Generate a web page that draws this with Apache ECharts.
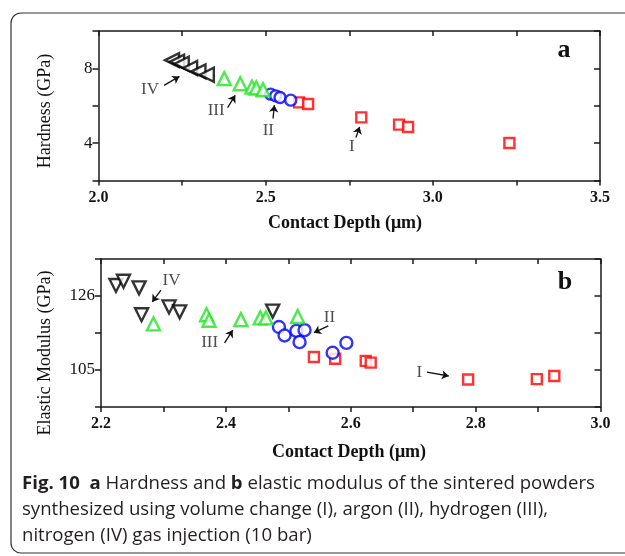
<!DOCTYPE html>
<html>
<head>
<meta charset="utf-8">
<script src="https://cdn.jsdelivr.net/npm/echarts@6/dist/echarts.min.js"></script>
<style>
html, body { margin: 0; padding: 0; background: #fff; }
#chart { width: 625px; height: 556px; }
</style>
</head>
<body>
<div id="chart"></div>
<script>
// panel a: hardness (GPa) vs contact depth (um)
var aVolume = [[2.600, 6.18], [2.627, 6.09], [2.786, 5.38], [2.899, 4.99], [2.926, 4.86], [3.229, 4.01]]
var aArgon = [[2.515, 6.62], [2.530, 6.53], [2.543, 6.44], [2.575, 6.30]]
var aHydrogen = [[2.376, 7.45], [2.424, 7.18], [2.459, 7.00], [2.472, 6.95], [2.492, 6.86]]
var aNitrogen = [[2.220, 8.44], [2.235, 8.36], [2.249, 8.25], [2.274, 8.02], [2.299, 7.84], [2.324, 7.66]]

// panel b: elastic modulus (GPa) vs contact depth (um)
var bVolume = [[2.541, 108.7], [2.575, 108.2], [2.624, 107.6], [2.632, 107.1], [2.788, 102.3], [2.898, 102.4], [2.926, 103.3]]
var bArgon = [[2.485, 117.2], [2.494, 114.8], [2.513, 116.1], [2.526, 116.3], [2.518, 112.9], [2.571, 109.9], [2.593, 112.7]]
var bHydrogen = [[2.284, 118.1], [2.369, 120.7], [2.373, 119.1], [2.424, 119.3], [2.455, 119.8], [2.464, 119.8], [2.515, 120.2]]
var bNitrogen = [[2.224, 129.0], [2.236, 130.2], [2.261, 128.3], [2.265, 120.7], [2.309, 122.9], [2.326, 121.5], [2.475, 121.7]]

// tick labels
var aXLabels = ['2.0', '2.5', '3.0', '3.5']
var aYLabels = ['4', '8']
var bXLabels = ['2.2', '2.4', '2.6', '2.8', '3.0']
var bYLabels = ['105', '126']

// annotations: text, text position, arrow start, arrow end
var aNotes = [
  ['IV', [2.154, 6.86], [2.196, 7.09], [2.242, 7.57]],
  ['III', [2.352, 5.76], [2.386, 5.90], [2.409, 6.56]],
  ['II', [2.508, 4.69], [2.522, 5.32], [2.526, 6.03]],
  ['I', [2.758, 3.80], [2.770, 4.30], [2.781, 4.87]]
]
var bNotes = [
  ['IV', [2.313, 130.5], [2.296, 127.7], [2.282, 124.3]],
  ['III', [2.374, 112.9], [2.398, 112.7], [2.411, 116.3]],
  ['II', [2.566, 120.0], [2.564, 117.5], [2.541, 115.6]],
  ['I', [2.710, 104.4], [2.722, 104.4], [2.757, 103.3]]
]

var serif = '"Liberation Serif", "DejaVu Serif", serif'
var sans = '"Open Sans", "Noto Sans", sans-serif'
var axisColor = '#1a1a1a'

function labelFmt (list) {
  return function (v) {
    for (var i = 0; i < list.length; i++) {
      if (Math.abs(parseFloat(list[i]) - v) < 1e-6) return list[i]
    }
    return ''
  }
}

function makeX (grid, min, max, interval, labels, top) {
  return {
    type: 'value',
    gridIndex: grid,
    position: top ? 'top' : 'bottom',
    min: min,
    max: max,
    interval: interval,
    axisLine: { onZero: false, lineStyle: { color: axisColor, width: 1.5 } },
    axisTick: { show: true, inside: !!top, length: 5, lineStyle: { color: axisColor, width: 1.5 } },
    axisLabel: {
      show: !top,
      formatter: labelFmt(labels),
      margin: 9,
      fontFamily: serif,
      fontWeight: 'bold',
      fontSize: 16,
      color: '#111'
    },
    splitLine: { show: false }
  }
}

function makeY (grid, min, max, interval, labels, right) {
  return {
    type: 'value',
    gridIndex: grid,
    position: right ? 'right' : 'left',
    min: min,
    max: max,
    interval: interval,
    axisLine: { onZero: false, lineStyle: { color: axisColor, width: 1.5 } },
    axisTick: { show: true, inside: !!right, length: 6, lineStyle: { color: axisColor, width: 1.5 } },
    axisLabel: {
      show: !right,
      formatter: labelFmt(labels),
      margin: 6,
      fontFamily: serif,
      fontSize: 17,
      color: '#111'
    },
    splitLine: { show: false }
  }
}

function marks (name, data, axis, symbol, color, size, rotate) {
  return {
    name: name,
    type: 'scatter',
    xAxisIndex: axis,
    yAxisIndex: axis,
    data: data,
    symbol: symbol,
    symbolSize: size,
    symbolRotate: rotate || 0,
    itemStyle: { color: '#fff', borderColor: color, borderWidth: 2.4 },
    z: 3
  }
}

function notes (list, axis) {
  return {
    type: 'scatter',
    xAxisIndex: axis,
    yAxisIndex: axis,
    symbolSize: 0,
    silent: true,
    data: list.map(function (n) { return { name: n[0], value: n[1] } }),
    label: {
      show: true,
      position: 'inside',
      formatter: '{b}',
      fontFamily: serif,
      fontSize: 17,
      color: '#222'
    },
    markLine: {
      silent: true,
      symbol: ['none', 'arrow'],
      symbolSize: 7,
      lineStyle: { color: '#111', width: 1.3, type: 'solid' },
      label: { show: false },
      data: list.map(function (n) {
        return [{ coord: n[2] }, { coord: n[3] }]
      })
    },
    z: 4
  }
}

var chart = echarts.init(document.getElementById('chart'))

chart.setOption({
  animation: false,
  backgroundColor: '#fff',
  grid: [
    { left: 98.5, top: 31, width: 501.5, height: 149.5 },
    { left: 101, top: 259, width: 499.5, height: 148 }
  ],
  xAxis: [
    makeX(0, 2.0, 3.5, 0.25, aXLabels, false),
    makeX(0, 2.0, 3.5, 0.25, aXLabels, true),
    makeX(1, 2.2, 3.0, 0.1, bXLabels, false),
    makeX(1, 2.2, 3.0, 0.1, bXLabels, true)
  ],
  yAxis: [
    makeY(0, 2, 10, 2, aYLabels, false),
    makeY(0, 2, 10, 2, aYLabels, true),
    makeY(1, 94.5, 136.5, 10.5, bYLabels, false),
    makeY(1, 94.5, 136.5, 10.5, bYLabels, true)
  ],
  series: [
    marks('I', aVolume, 0, 'rect', '#ff0000', 10),
    marks('II', aArgon, 0, 'circle', '#0000ff', 11),
    marks('III', aHydrogen, 0, 'triangle', '#1ee61e', 13),
    marks('IV', aNitrogen, 0, 'triangle', '#000', 14, 90),
    notes(aNotes, 0),
    marks('I', bVolume, 2, 'rect', '#ff0000', 10),
    marks('II', bArgon, 2, 'circle', '#0000ff', 12),
    marks('III', bHydrogen, 2, 'triangle', '#1ee61e', 13),
    marks('IV', bNitrogen, 2, 'triangle', '#000', 13, 180),
    notes(bNotes, 2)
  ],
  graphic: [
    {
      type: 'rect',
      shape: { x: 11, y: 13, width: 640, height: 540, r: 10 },
      style: { fill: 'none', stroke: '#333', lineWidth: 1.2 },
      z: -1
    },
    {
      type: 'text', x: 45, y: 111, rotation: Math.PI / 2,
      style: { text: 'Hardness (GPa)', font: '18px ' + serif, fill: '#111', align: 'center', verticalAlign: 'middle' }
    },
    {
      type: 'text', x: 45, y: 353, rotation: Math.PI / 2,
      style: { text: 'Elastic Modulus (GPa)', font: '18px ' + serif, fill: '#111', align: 'center', verticalAlign: 'middle' }
    },
    {
      type: 'text', x: 345, y: 223,
      style: { text: 'Contact Depth (\u03bcm)', font: 'bold 18px ' + serif, fill: '#111', align: 'center', verticalAlign: 'middle' }
    },
    {
      type: 'text', x: 349, y: 452,
      style: { text: 'Contact Depth (\u03bcm)', font: 'bold 18px ' + serif, fill: '#111', align: 'center', verticalAlign: 'middle' }
    },
    {
      type: 'text', x: 564, y: 50,
      style: { text: 'a', font: 'bold 26px ' + serif, fill: '#111', align: 'center', verticalAlign: 'middle' }
    },
    {
      type: 'text', x: 565, y: 282,
      style: { text: 'b', font: 'bold 26px ' + serif, fill: '#111', align: 'center', verticalAlign: 'middle' }
    },
    {
      type: 'text', x: 22, y: 471,
      style: {
        text: '{b|Fig. 10}  {b|a} Hardness and {b|b} elastic modulus of the sintered powders\nsynthesized using volume change (I), argon (II), hydrogen (III),\nnitrogen (IV) gas injection (10 bar)',
        font: '18.6px ' + sans,
        fill: '#231f20',
        lineHeight: 26,
        rich: {
          b: { fontWeight: 'bold', fontFamily: sans, fontSize: 18.6, fill: '#231f20' }
        }
      }
    }
  ]
})
</script>
</body>
</html>
